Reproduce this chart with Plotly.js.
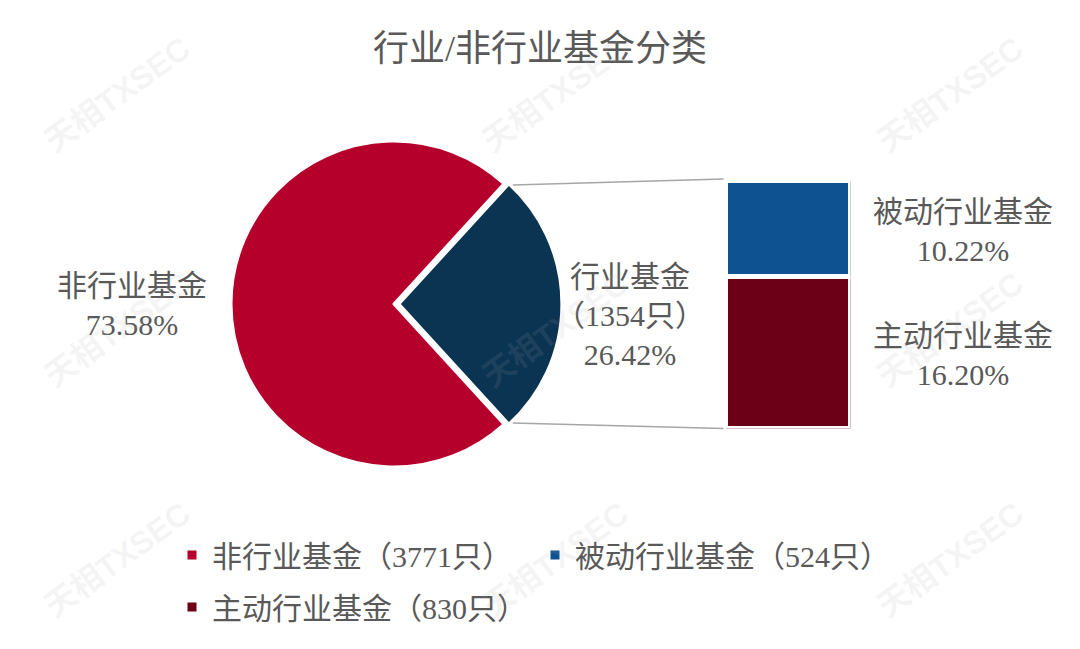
<!DOCTYPE html>
<html><head><meta charset="utf-8">
<script src="https://cdn.plot.ly/plotly-3.0.1.min.js"></script>
<style>html,body{margin:0;padding:0;background:#fff}#chart{width:1080px;height:649px}</style>
</head><body><div id="chart"></div>
<script>
// ---- data ----
const titleText = '行业/非行业基金分类';
const pieLabels = ['行业基金', '非行业基金'];
const pieCounts = [1354, 3771];
const barLabels = ['主动行业基金', '被动行业基金'];
const barCounts = [830, 524];
const pieColors = ['#0B3452', '#B4002B'];
const barColors = ['#6B0016', '#0E5291'];
const watermarkText = '天相TXSEC';

// ---- layout constants (px) ----
const W = 1080, H = 649;
const FONT = 'Liberation Serif, "Noto Sans CJK SC", serif';
const TXT = '#595959';
const pieCX = 394, pieCY = 304, pieR = 163, pull = 0.03;
const barL = 725.5, barR = 850.5, barTop = 180.5, barBot = 428.5;
const px = x => x / W, py = y => 1 - y / H;

const total = pieCounts.reduce((a, b) => a + b, 0);
const pct = v => (v / total * 100).toFixed(2) + '%';
const indShare = pieCounts[0] / total;
const halfAng = 180 * indShare;
const rotation = 90 - halfAng;

const half = pieR * (1 + pull);
const pieTrace = {
  type: 'pie', labels: pieLabels, values: pieCounts, sort: false,
  direction: 'clockwise', rotation: rotation,
  pull: [pull, 0],
  marker: {colors: pieColors, line: {color: '#ffffff', width: 3}},
  textinfo: 'none', hoverinfo: 'label+value+percent', showlegend: false,
  domain: {x: [px(pieCX - half), px(pieCX + half)], y: [py(pieCY + half), py(pieCY - half)]}
};

const barTraces = barLabels.map((lab, i) => ({
  type: 'bar', x: [0], y: [barCounts[i]], width: 1, name: lab,
  marker: {color: barColors[i], line: {color: '#ffffff', width: 5}},
  showlegend: false, hoverinfo: 'name+y', xaxis: 'x', yaxis: 'y'
}));

const legendEntries = [
  {name: pieLabels[1] + '（' + pieCounts[1] + '只）', color: pieColors[1], legend: 'legend'},
  {name: barLabels[1] + '（' + barCounts[1] + '只）', color: barColors[1], legend: 'legend2'},
  {name: barLabels[0] + '（' + barCounts[0] + '只）', color: barColors[0], legend: 'legend3'}
];
const legendTraces = legendEntries.map(e => ({
  type: 'scatter', mode: 'markers', x: [null], y: [null], name: e.name,
  marker: {symbol: 'square', size: 9, color: e.color},
  legend: e.legend, showlegend: true, hoverinfo: 'skip', xaxis: 'x', yaxis: 'y'
}));

// connector lines from slice corners to bar corners
const rad = Math.PI / 180;
const rEff = pieR - 3;
const ncx = pieCX + pull * rEff;
const a1 = rotation * rad;
const sx = ncx + rEff * Math.sin(a1) + 6;
const syTop = pieCY - rEff * Math.cos(a1) - 1;
const syBot = pieCY + rEff * Math.cos(a1) + 1;
const shapes = [
  {type: 'line', xref: 'paper', yref: 'paper', x0: px(sx), y0: py(syTop), x1: px(barL - 2), y1: py(barTop - 1.5), line: {color: '#A6A6A6', width: 1.5}},
  {type: 'line', xref: 'paper', yref: 'paper', x0: px(sx), y0: py(syBot), x1: px(barL - 2), y1: py(barBot), line: {color: '#A6A6A6', width: 1.5}}
];

const lab = (text, x, y) => ({
  text: text, xref: 'paper', yref: 'paper', x: px(x), y: py(y),
  xanchor: 'center', yanchor: 'middle', showarrow: false, align: 'center',
  font: {family: FONT, size: 30, color: TXT}
});
const annotations = [
  lab(pieLabels[1] + '<br>' + pct(pieCounts[1]), 132, 305),
  lab(pieLabels[0] + '<br>（' + pieCounts[0] + '只）<br>' + pct(pieCounts[0]), 630, 315),
  lab(barLabels[1] + '<br>' + pct(barCounts[1]), 963, 231),
  lab(barLabels[0] + '<br>' + pct(barCounts[0]), 963, 355)
];
const wmX = [117, 555, 950], wmY = [95, 330, 560];
wmY.forEach(y => wmX.forEach(x => annotations.push({
  text: watermarkText, xref: 'paper', yref: 'paper', x: px(x), y: py(y),
  xanchor: 'center', yanchor: 'middle', showarrow: false, textangle: -36,
  font: {family: 'Liberation Sans, "Noto Sans CJK SC", sans-serif', size: 32, color: 'rgba(170,170,170,0.13)', weight: 'bold'}
})));

const legBase = {orientation: 'h', xanchor: 'left', yanchor: 'middle', bgcolor: 'rgba(0,0,0,0)',
  font: {family: FONT, size: 30, color: TXT}, itemclick: false, itemdoubleclick: false};

const layout = {
  width: W, height: H, margin: {l: 0, r: 0, t: 0, b: 0},
  paper_bgcolor: '#ffffff', plot_bgcolor: '#ffffff',
  title: {text: titleText, x: 0.5, xanchor: 'center', y: py(48), yanchor: 'middle',
    font: {family: FONT, size: 36, color: TXT}},
  barmode: 'stack',
  xaxis: {domain: [px(barL), px(barR)], range: [-0.5, 0.5], visible: false, fixedrange: true},
  yaxis: {domain: [py(barBot), py(barTop)], range: [0, pieCounts[0]], visible: false, fixedrange: true},
  legend: Object.assign({}, legBase, {x: px(172), y: py(555)}),
  legend2: Object.assign({}, legBase, {x: px(535), y: py(555)}),
  legend3: Object.assign({}, legBase, {x: px(172), y: py(607)}),
  shapes: shapes, annotations: annotations
};

Plotly.newPlot('chart', [pieTrace].concat(barTraces, legendTraces), layout, {displayModeBar: false, staticPlot: true});
</script></body></html>
